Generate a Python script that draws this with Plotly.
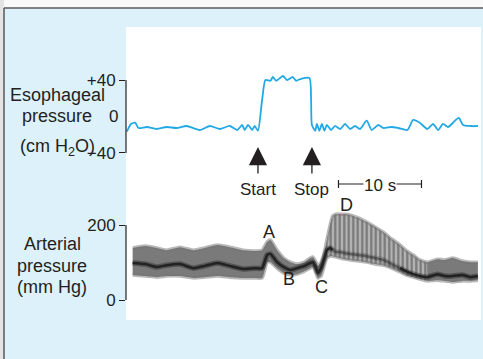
import plotly.graph_objects as go

# ---------------- data ----------------
# Esophageal pressure (cm H2O) vs time (s)
eso_t = [0.1, 0.6, 1.1, 1.5, 2.5, 3.7, 4.9, 6.1, 7.3, 8.9, 10.1, 11.3, 12.5, 13.4, 14.0,
         14.3, 14.7, 15.2, 15.5, 15.9, 16.4, 16.8, 17.4, 17.7, 18.1, 18.9, 19.4, 20.1,
         20.5, 21.0, 22.1, 22.3, 22.4, 22.8, 23.0, 23.3, 23.6, 23.9, 24.2, 24.7, 25.2,
         25.8, 26.4, 27.0, 27.6, 28.2, 29.0, 29.6, 30.4, 31.0, 32.0, 32.8, 33.9, 34.6,
         35.4, 36.3, 37.0, 37.6, 38.2, 38.8, 39.4, 40.1, 40.6, 41.5, 42.4]
eso_v = [-16.7, -8.2, -6.8, -12.6, -11.5, -13.7, -11.5, -12.6, -10.4, -14.8, -10.4, -13.7,
         -10.4, -14.8, -9.3, -14.8, -9.3, -14.8, -10.4, -15.6, 18.1, 40.0, 39.2, 43.3,
         39.2, 44.4, 40.0, 43.3, 39.2, 41.1, 42.2, 18.1, -9.3, -15.6, -8.2, -15.6, -8.2,
         -15.6, -9.3, -14.8, -10.4, -13.7, -8.2, -13.7, -10.4, -13.7, -4.6, -14.8, -9.3,
         -12.6, -11.5, -12.6, -14.8, -3.8, -6.8, -13.7, -8.2, -14.8, -8.2, -11.5, -6.8,
         -1.6, -9.3, -10.4, -10.4]

# Arterial pressure (mm Hg) vs time (s): systolic envelope, dark trace, diastolic envelope
art_t = [0.8, 2.3, 3.7, 4.9, 6.5, 8.1, 9.5, 11.0, 12.5, 14.1, 15.5, 16.4, 17.0, 17.4, 18.2,
         19.0, 19.8, 20.6, 21.5, 22.2, 22.5, 22.9, 23.1, 23.5, 23.9, 24.2, 24.6, 24.9,
         25.3, 25.8, 26.4, 27.0, 28.0, 29.0, 30.0, 31.0, 32.0, 33.0, 33.7, 34.6, 35.4,
         36.3, 37.5, 38.4, 39.4, 40.5, 41.5, 42.4]
art_sys = [139, 144, 139, 133, 141, 133, 139, 147, 141, 133, 131, 133, 155, 160, 133, 112,
           101, 96, 101, 112, 115, 101, 91, 101, 128, 160, 200, 224, 229, 229, 229, 227,
           219, 208, 195, 181, 163, 147, 133, 120, 107, 101, 109, 107, 112, 104, 101, 101]
art_mid = [99, 96, 88, 93, 96, 85, 91, 99, 91, 83, 85, 85, 120, 123, 101, 88, 80, 85, 91,
           99, 101, 85, 72, 85, 112, 133, 139, 133, 128, 128, 125, 123, 120, 117, 112, 107,
           96, 85, 77, 69, 64, 61, 69, 64, 64, 67, 61, 64]
art_dia = [67, 64, 61, 64, 64, 59, 61, 64, 61, 59, 59, 59, 101, 101, 85, 72, 67, 69, 77, 85,
           88, 72, 59, 64, 93, 112, 117, 117, 115, 112, 109, 107, 104, 101, 96, 93, 85, 75,
           67, 61, 56, 51, 53, 51, 48, 51, 51, 53]
pulse_from, pulse_to = 25, 42   # index span of the visibly pulsatile stretch after release
faint_from, faint_to = 27, 37   # stretch where the dark trace is hidden by the pulses

eso_ticks = [-40, 40]
eso_ticktext = ["\u221240", "+40"]
art_ticks = [0, 200]
art_ticktext = ["0", "200"]

start_t, stop_t = 15.9, 22.4
scale_start, scale_len = 25.6, 10
letters = ["A", "B", "C", "D"]
letter_t = [17.2, 19.6, 23.6, 26.6]
letter_v = [181, 57, 35, 253]

# ---------------- layout helpers ----------------
W, H = 483, 359
def px(x):
    return x / W
def py(y):
    return 1 - y / H

INK = "#231f20"
FONT = "Liberation Sans, Arial, sans-serif"
BLUE_BG = "#ddf1fb"
SPL = dict(shape="spline", smoothing=0.5)

fig = go.Figure()

fig.add_trace(go.Scatter(x=eso_t, y=eso_v, xaxis="x", yaxis="y", mode="lines",
                         line=dict(color="#22a9e5", width=1.8, shape="spline", smoothing=0.6),
                         hoverinfo="skip"))

# arterial band
fig.add_trace(go.Scatter(x=art_t, y=art_dia, xaxis="x", yaxis="y2", mode="lines",
                         line=dict(width=0, **SPL), hoverinfo="skip"))
fig.add_trace(go.Scatter(x=art_t, y=art_sys, xaxis="x", yaxis="y2", mode="lines",
                         fill="tonexty", fillcolor="#7a7a7a",
                         line=dict(width=0, **SPL), hoverinfo="skip"))
# pulsatile texture
seg_t = art_t[pulse_from:pulse_to]
fig.add_trace(go.Scatter(x=seg_t, y=art_dia[pulse_from:pulse_to], xaxis="x", yaxis="y2",
                         mode="lines", line=dict(width=0, **SPL), hoverinfo="skip"))
fig.add_trace(go.Scatter(x=seg_t, y=art_sys[pulse_from:pulse_to], xaxis="x", yaxis="y2",
                         mode="lines", fill="tonexty", fillcolor="#b0b0b0",
                         fillpattern=dict(shape="|", size=4.5, solidity=0.5,
                                          fgcolor="#3e3e3e", bgcolor="#b4b4b4"),
                         line=dict(width=0, **SPL), hoverinfo="skip"))
# fuzzy edges
for env in (art_sys, art_dia):
    fig.add_trace(go.Scatter(x=art_t, y=env, xaxis="x", yaxis="y2", mode="lines",
                             line=dict(color="rgba(115,115,115,0.5)", width=3.5, **SPL),
                             hoverinfo="skip"))
# dark trace (fainter where the pulses dominate)
segments = [(0, faint_from + 1, 1.0), (faint_from, faint_to + 1, 0.45), (faint_to, len(art_t), 1.0)]
for a, b, alpha in segments:
    fig.add_trace(go.Scatter(x=art_t[a:b], y=art_mid[a:b], xaxis="x", yaxis="y2", mode="lines",
                             line=dict(color=f"rgba(30,30,30,{0.4 * alpha:.2f})", width=5.5, **SPL),
                             hoverinfo="skip"))
    fig.add_trace(go.Scatter(x=art_t[a:b], y=art_mid[a:b], xaxis="x", yaxis="y2", mode="lines",
                             line=dict(color=f"rgba(34,34,34,{alpha:.2f})", width=2.5, **SPL),
                             hoverinfo="skip"))

shapes = [
    dict(type="rect", xref="paper", yref="paper", x0=0, x1=px(4), y0=0, y1=1,
         fillcolor="#e4e4e4", line=dict(width=0), layer="below"),
    dict(type="rect", xref="paper", yref="paper", x0=px(4), x1=1, y0=0, y1=py(8),
         fillcolor=BLUE_BG, line=dict(width=0), layer="below"),
    dict(type="line", xref="paper", yref="paper", x0=px(4), x1=1, y0=py(8), y1=py(8),
         line=dict(color="#5a5a5a", width=1.5), layer="below"),
    dict(type="line", xref="paper", yref="paper", x0=px(4), x1=px(4), y0=0, y1=py(8),
         line=dict(color="#5a5a5a", width=1.5), layer="below"),
    dict(type="rect", xref="paper", yref="paper", x0=px(126), x1=px(481), y0=py(320), y1=py(27),
         fillcolor="white", line=dict(width=0), layer="below"),
    # axis spines (bracket style)
    dict(type="line", xref="paper", yref="y", x0=px(126), x1=px(126), y0=-40, y1=40,
         line=dict(color=INK, width=1.2)),
    dict(type="line", xref="paper", yref="y2", x0=px(126), x1=px(126), y0=0, y1=200,
         line=dict(color=INK, width=1.2)),
    # 10 s scale bar
    dict(type="line", xref="x", yref="paper", x0=scale_start, x1=scale_start + scale_len,
         y0=py(184), y1=py(184), line=dict(color=INK, width=1.2)),
    dict(type="line", xref="x", yref="paper", x0=scale_start, x1=scale_start,
         y0=py(180), y1=py(188), line=dict(color=INK, width=1.2)),
    dict(type="line", xref="x", yref="paper", x0=scale_start + scale_len,
         x1=scale_start + scale_len, y0=py(180), y1=py(188), line=dict(color=INK, width=1.2)),
]

tf = dict(family=FONT, size=17, color=INK)
lf = dict(family=FONT, size=18, color=INK)

def label(x, y, text, font, xref="paper", yref="paper", xanchor="center", **kw):
    return dict(xref=xref, yref=yref, x=x, y=y, text=text, showarrow=False, font=font,
                xanchor=xanchor, yanchor="middle", **kw)

annotations = [
    label(px(57), py(94.5), "Esophageal", lf),
    label(px(57), py(115.5), "pressure", lf),
    label(px(57), py(147), "(cm H<sub>2</sub>O)", lf),
    label(px(52), py(244), "Arterial", lf),
    label(px(52), py(266), "pressure", lf),
    label(px(52), py(287), "(mm Hg)", lf),
    label(px(120), 0, "0", tf, yref="y", xanchor="right"),
    dict(xref="x", yref="paper", x=start_t, y=py(147), text="", showarrow=True, ax=0, ay=28,
         arrowhead=2, arrowsize=2.8, arrowwidth=1.3, arrowcolor=INK),
    dict(xref="x", yref="paper", x=stop_t, y=py(147), text="", showarrow=True, ax=0, ay=28,
         arrowhead=2, arrowsize=2.8, arrowwidth=1.3, arrowcolor=INK),
    label(start_t, py(189.5), "Start", tf, xref="x"),
    label(stop_t, py(189.5), "Stop", tf, xref="x"),
    label(scale_start + scale_len / 2, py(185.5), "10 s", tf, xref="x",
          bgcolor="white", borderpad=0),
]
for s, t, v in zip(letters, letter_t, letter_v):
    annotations.append(label(t, v, s, lf, xref="x", yref="y2"))

axis_common = dict(showgrid=False, zeroline=False, showline=False, ticks="outside",
                   ticklen=6, tickwidth=1.2, tickcolor=INK, tickfont=tf, fixedrange=True,
                   automargin=False)

fig.update_layout(
    width=W, height=H, margin=dict(l=0, r=0, t=0, b=0, pad=0),
    paper_bgcolor="#f9f9f9", plot_bgcolor="rgba(0,0,0,0)",
    showlegend=False,
    xaxis=dict(domain=[px(126), px(481)], range=[0, (481 - 126) / 8.3], visible=False,
               fixedrange=True),
    yaxis=dict(domain=[py(162.1), py(70.9)], range=[-50, 50], anchor="x",
               tickvals=eso_ticks, ticktext=eso_ticktext, **axis_common),
    yaxis2=dict(domain=[py(309.4), py(204.4)], range=[-25, 255], anchor="x",
                tickvals=art_ticks, ticktext=art_ticktext, **axis_common),
    shapes=shapes, annotations=annotations,
)

fig.write_html("out.html", config={"displayModeBar": False},
               post_script="document.body.style.margin='0';document.body.style.overflow='hidden';")
